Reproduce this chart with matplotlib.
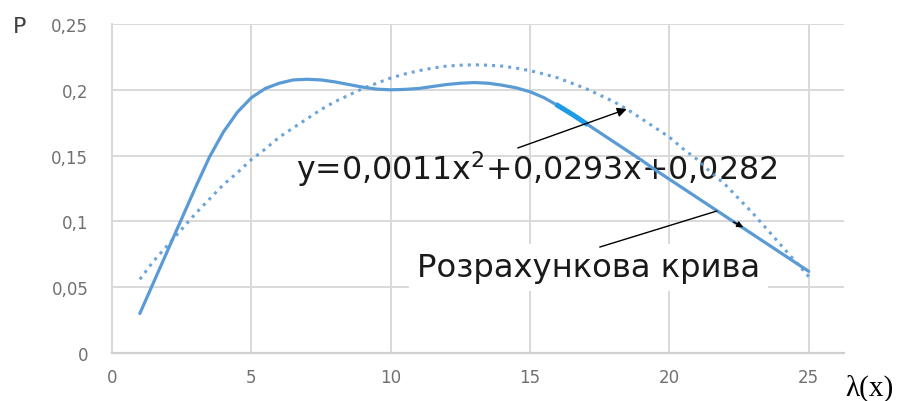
import numpy as np
import matplotlib.pyplot as plt

# lambda from 1 to 25 with step 0.5
lam = np.arange(1, 25.5, 0.5)
# calculated probability
p_calc = [0.030, 0.054, 0.078, 0.102, 0.126, 0.149, 0.168, 0.183, 0.194, 0.201,
          0.205, 0.2075, 0.208, 0.2075, 0.206, 0.204, 0.202, 0.2005, 0.200, 0.2003,
          0.201, 0.2025, 0.204, 0.205, 0.2055, 0.205, 0.2035, 0.2015, 0.1985, 0.194,
          0.188, 0.1815, 0.1745, 0.1675, 0.1605, 0.1535, 0.1465, 0.139, 0.132, 0.125,
          0.118, 0.111, 0.104, 0.097, 0.090, 0.083, 0.076, 0.069, 0.062]
# polynomial trend line
p_trend = [0.056, 0.070, 0.082, 0.094, 0.106, 0.117, 0.128, 0.137, 0.147, 0.155,
           0.164, 0.171, 0.178, 0.185, 0.191, 0.196, 0.201, 0.205, 0.209, 0.212,
           0.2145, 0.2165, 0.218, 0.2187, 0.219, 0.2187, 0.218, 0.2165, 0.2145, 0.212,
           0.209, 0.205, 0.201, 0.196, 0.191, 0.185, 0.178, 0.171, 0.164, 0.155,
           0.147, 0.137, 0.128, 0.117, 0.106, 0.094, 0.082, 0.070, 0.058]

x_ticks = [0, 5, 10, 15, 20, 25]
x_labels = ['0', '5', '10', '15', '20', '25']
y_ticks = [0, 0.05, 0.1, 0.15, 0.2, 0.25]
y_labels = ['0', '0,05', '0,1', '0,15', '0,2', '0,25']

blue = '#5b9bd5'

fig = plt.figure(figsize=(9, 4.02), dpi=100)
ax = fig.add_axes([0.1244, 0.1194, 0.8133, 0.8184])

ax.plot(lam, p_calc, color=blue, lw=2.3, zorder=4, solid_capstyle='round')
ax.plot(lam, p_trend, color=blue, lw=2.2, ls=':', zorder=3, alpha=0.9)
# highlighted piece of the curve (lambda 16..17)
ax.plot(lam[30:33], p_calc[30:33], color='#1e9be8', lw=3.6, zorder=5)

ax.set_xlim(0, 26.26)
ax.set_ylim(0, 0.25)
ax.set_xticks(x_ticks)
ax.set_xticklabels(x_labels)
ax.set_yticks(y_ticks)
ax.set_yticklabels(y_labels)
ax.tick_params(axis='both', length=0, labelsize=12, labelcolor='#707070')
ax.tick_params(axis='x', pad=11)
ax.tick_params(axis='y', pad=17)
ax.grid(True, color='#d9d9d9', lw=1.4)
ax.set_axisbelow(True)
for s in ['top', 'right']:
    ax.spines[s].set_visible(False)
ax.spines['left'].set_color('#d9d9d9')
ax.spines['left'].set_linewidth(1.4)
ax.spines['bottom'].set_color('#cfcfcf')
ax.spines['bottom'].set_linewidth(1.6)

ax.text(6.6, 0.1322, 'y=0,0011x$^2$+0,0293x+0,0282', fontsize=22.8,
        color='#1a1a1a', va='baseline', ha='left', zorder=2)
ax.text(10.94, 0.0585, 'Розрахункова крива', fontsize=23.2, color='#1a1a1a',
        va='baseline', ha='left', zorder=2,
        bbox=dict(facecolor='white', edgecolor='none', pad=6))

ax.annotate('', xy=(18.47, 0.1854), xytext=(14.56, 0.1558),
            arrowprops=dict(arrowstyle='-|>', color='black', lw=1.0,
                            mutation_scale=14, shrinkA=0, shrinkB=0), zorder=6)
ax.annotate('', xy=(21.7, 0.1079), xytext=(17.5, 0.0805),
            arrowprops=dict(arrowstyle='-', color='black', lw=1.0,
                            shrinkA=0, shrinkB=0), zorder=6)
ax.annotate('', xy=(22.65, 0.0955), xytext=(22.3, 0.0995),
            arrowprops=dict(arrowstyle='-|>', color='black', lw=1.0,
                            mutation_scale=9, shrinkA=0, shrinkB=0), zorder=6)

fig.text(13 / 900, 1 - 33 / 402, 'P', fontsize=16, color='#404040',
         ha='left', va='baseline')
fig.text(845 / 900, 6 / 402, 'λ(x)', fontsize=21, family='Liberation Serif',
         color='black', ha='left', va='baseline')

plt.savefig('out.png', dpi=100)
